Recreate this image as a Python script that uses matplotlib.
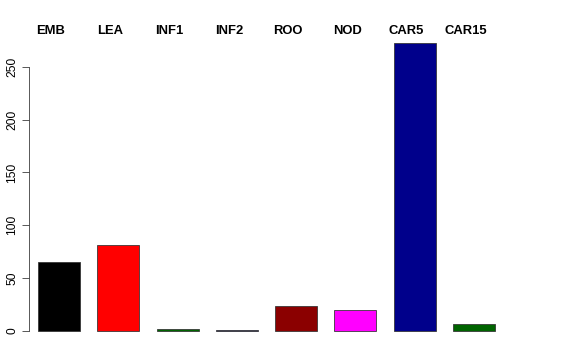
import matplotlib
matplotlib.use("Agg")
import matplotlib.pyplot as plt
from matplotlib.transforms import offset_copy

categories = ["EMB", "LEA", "INF1", "INF2", "ROO", "NOD", "CAR5", "CAR15"]
values = [65, 81, 1.5, 0.7, 24, 20.2, 272.5, 6.3]
colors = ["black", "red", "darkgreen", "midnightblue", "darkred", "magenta", "darkblue", "darkgreen"]
yticks = [0, 50, 100, 150, 200, 250]

plt.rcParams['font.family'] = ['Liberation Sans', 'DejaVu Sans']
fig = plt.figure(figsize=(8, 5), dpi=72)
ax = fig.add_axes([29/576, 17.5/360, (503-29)/576, (328.5-17.5)/360])

x = list(range(len(categories)))
ax.bar(x, values, width=0.71, color=colors, edgecolor="#333333", linewidth=0.8)
ax.set_xlim(-0.507, 7.493)
ax.set_ylim(-0.04 * max(values), max(values) * 1.04)

for s in ["top", "right", "bottom"]:
    ax.spines[s].set_visible(False)
ax.spines["left"].set_bounds(0, 250)
ax.spines["left"].set_color("#333333")
ax.set_xticks([])
ax.set_yticks(yticks)
ax.set_yticklabels([str(t) for t in yticks], rotation=90, va="center", fontsize=12)
ax.tick_params(axis="y", length=7, pad=4, color="#333333")

trans = offset_copy(ax.get_xaxis_transform(), fig=fig, x=-8, y=0, units="points")
for xi, c in zip(x, categories):
    ax.text(xi, 1.0, c, transform=trans, ha="center", va="center",
            fontsize=13, fontweight="bold")

fig.savefig("out.png", dpi=72)
